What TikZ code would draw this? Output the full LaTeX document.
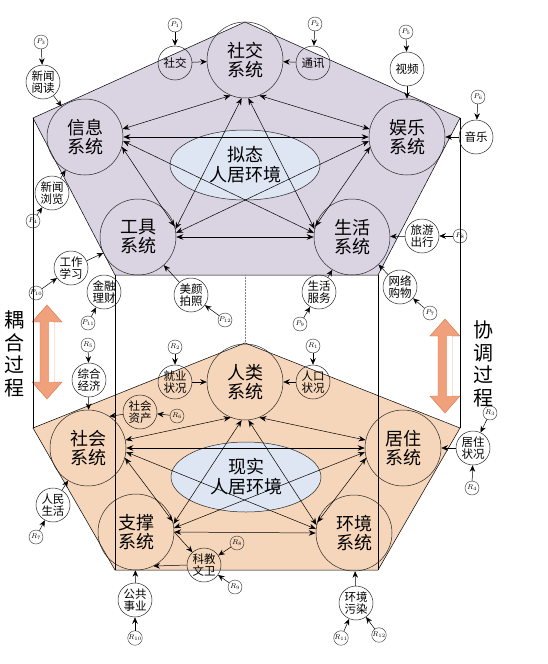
\documentclass[tikz,border=0pt]{standalone}
\usepackage{fontspec}
\setmainfont{Noto Sans CJK SC}
\usepackage{tikz}
\usetikzlibrary{arrows.meta, shapes.geometric, calc}
\definecolor{upfill}{RGB}{217,211,226}
\definecolor{lowfill}{RGB}{246,214,186}
\definecolor{envfill}{RGB}{222,230,243}
\definecolor{coupfill}{RGB}{240,160,122}
\definecolor{coupline}{RGB}{210,118,80}

% fat double-headed arrow centred on a named coordinate
\newcommand{\couplearrow}[1]{%
  \filldraw[fill=coupfill, draw=coupline, line width=0.4pt]
    ($(#1)+(0,-47)$) -- ++(15,17) -- ++(-8,0) -- ++(0,60) -- ++(8,0)
    -- ++(-15,17) -- ++(-15,-17) -- ++(8,0) -- ++(0,-60) -- ++(-8,0) -- cycle;
  \fill[white] ($(#1)+(1.5,-30)$) rectangle ($(#1)+(6.6,30)$);}

\begin{document}
\begin{tikzpicture}[
  x=1pt, y=-1pt,
  sysnode/.style={circle, draw=black!85, line width=0.5pt, minimum size=76pt,
                  inner sep=0pt, align=center, font=\fontsize{18}{19}\selectfont},
  subnode/.style={circle, draw=black!85, line width=0.5pt, minimum size=34pt,
                  inner sep=0pt, align=center, font=\fontsize{11.5}{12.5}\selectfont},
  srcnode/.style={circle, draw=black!85, line width=0.4pt, minimum size=14pt,
                  inner sep=0pt, font=\fontsize{7.5}{8}\selectfont},
  envnode/.style={ellipse, draw=black!85, fill=envfill, line width=0.5pt,
                  minimum width=150pt, minimum height=70pt, inner sep=0pt,
                  align=center, font=\fontsize{18}{20}\selectfont},
  procnode/.style={align=center, font=\fontsize{20}{22.5}\selectfont},
  linkarrow/.style={{Stealth[length=7pt, width=5.5pt]}-{Stealth[length=7pt, width=5.5pt]},
                    line width=0.5pt},
  feedarrow/.style={-{Stealth[length=6.5pt, width=5.5pt]}, line width=0.5pt},
]
\useasboundingbox (0,0) rectangle (548,664);

% =================================================================
% FRAME: two pentagons joined by vertical edges
% =================================================================
\coordinate (ua)  at (245,22);
\coordinate (ul)  at (33,118);
\coordinate (ur)  at (460,118);
\coordinate (ubl) at (115,275);
\coordinate (ubr) at (378,275);
\coordinate (ubm) at (245,275);
\coordinate (la)  at (245,343);
\coordinate (ll)  at (33,428);
\coordinate (lr)  at (460,428);
\coordinate (lbl) at (115,570);
\coordinate (lbr) at (378,570);

\filldraw[fill=upfill, line width=0.5pt] (ua) -- (ur) -- (ubr) -- (ubl) -- (ul) -- cycle;
\filldraw[fill=lowfill, line width=0.5pt] (la) -- (lr) -- (lbr) -- (lbl) -- (ll) -- cycle;

% =================================================================
% COUPLING / COORDINATION ARROWS
% =================================================================
\coordinate (ougc) at (47,352);
\coordinate (xtc) at (445,366);
\couplearrow{ougc}
\couplearrow{xtc}
\node[procnode] (ouhe) at (15,354) {耦\\合\\过\\程};
\node[procnode] (xietiao) at (483,364) {协\\调\\过\\程};

\draw[line width=0.5pt] (ul) -- (ll);
\draw[line width=0.5pt] (ur) -- (lr);
\draw[line width=0.5pt] (ubl) -- (lbl);
\draw[line width=0.5pt] (ubr) -- (lbr);
\draw[gray, densely dotted, line width=0.5pt] (ubm) -- (la);

% =================================================================
% UPPER PENTAGON: virtual living environment
% =================================================================
\node[envnode] (nitai) at (245,165) {拟态\\人居环境};
\node[sysnode] (shejiao) at (245,60) {社交\\系统};
\node[sysnode] (xinxi) at (85,137) {信息\\系统};
\node[sysnode] (yule) at (407,137) {娱乐\\系统};
\node[sysnode] (gongju) at (138,237) {工具\\系统};
\node[sysnode] (shenghuo) at (352,237) {生活\\系统};

\draw[linkarrow] (shejiao.-112) -- (xinxi.12);
\draw[linkarrow] (shejiao.-68) -- (yule.168);
\draw[linkarrow] (shejiao.-95) -- (gongju.12);
\draw[linkarrow] (shejiao.-85) -- (shenghuo.168);
\draw[linkarrow] (xinxi.east) -- (yule.west);
\draw[linkarrow] (xinxi.-15) -- (gongju.16);
\draw[linkarrow] (xinxi.-6) -- (shenghuo.174);
\draw[linkarrow] (yule.-174) -- (gongju.6);
\draw[linkarrow] (yule.-165) -- (shenghuo.164);
\draw[linkarrow] (gongju.east) -- (shenghuo.west);

\node[subnode] (sjsub) at (175,63) {社交};
\node[subnode] (txsub) at (313,63) {通讯};
\node[subnode] (xwyd) at (43,82) {新闻\\阅读};
\node[subnode] (xwll) at (52,193) {新闻\\浏览};
\node[subnode] (spsub) at (407,69) {视频};
\node[subnode] (yysub) at (476,137) {音乐};
\node[subnode] (gzxx) at (71,268) {工作\\学习};
\node[subnode] (jrlc) at (104,292) {金融\\理财};
\node[subnode] (myps) at (191,295) {美颜\\拍照};
\node[subnode] (shfw) at (319,292) {生活\\服务};
\node[subnode] (lycx) at (422,236) {旅游\\出行};
\node[subnode] (wlgw) at (400,287) {网络\\购物};

\node[srcnode] (p1) at (175,25) {$P_{1}$};
\node[srcnode] (p2) at (315,24) {$P_{2}$};
\node[srcnode] (p3) at (41,42) {$P_{3}$};
\node[srcnode] (p4) at (33,221) {$P_{4}$};
\node[srcnode] (p5) at (406,32) {$P_{5}$};
\node[srcnode] (p6) at (478,97) {$P_{6}$};
\node[srcnode] (p7) at (430,313) {$P_{7}$};
\node[srcnode] (p8) at (460,236) {$P_{8}$};
\node[srcnode] (p9) at (300,324) {$P_{9}$};
\node[srcnode] (p10) at (36,293) {$P_{10}$};
\node[srcnode] (p11) at (88,323) {$P_{11}$};
\node[srcnode] (p12) at (225,320) {$P_{12}$};

\draw[feedarrow] (p1) -- (sjsub);
\draw[feedarrow] (sjsub) -- (shejiao);
\draw[feedarrow] (p2) -- (txsub);
\draw[feedarrow] (txsub) -- (shejiao);
\draw[feedarrow] (p3) -- (xwyd);
\draw[feedarrow] (xwyd) -- (xinxi);
\draw[feedarrow] (p4) -- (xwll);
\draw[feedarrow] (xwll) -- (xinxi);
\draw[feedarrow] (p5) -- (spsub);
\draw[feedarrow] (spsub) -- (yule);
\draw[feedarrow] (p6) -- (yysub);
\draw[feedarrow] (yysub) -- (yule);
\draw[feedarrow] (p10) -- (gzxx);
\draw[feedarrow] (gzxx) -- (gongju);
\draw[feedarrow] (p11) -- (jrlc);
\draw[feedarrow] (p12) -- (myps);
\draw[feedarrow] (myps) -- (gongju);
\draw[feedarrow] (p9) -- (shfw);
\draw[feedarrow] (shfw) -- (shenghuo);
\draw[feedarrow] (p7) -- (wlgw);
\draw[feedarrow] (wlgw) -- (shenghuo);
\draw[feedarrow] (p8) -- (lycx);
\draw[feedarrow] (lycx) -- (shenghuo);

% =================================================================
% LOWER PENTAGON: real living environment
% =================================================================
\node[envnode] (xianshi) at (246,477) {现实\\人居环境};
\node[sysnode] (renlei) at (245,382) {人类\\系统};
\node[sysnode] (shehui) at (88,448) {社会\\系统};
\node[sysnode] (juzhu) at (403,448) {居住\\系统};
\node[sysnode] (zhicheng) at (136,532) {支撑\\系统};
\node[sysnode] (huanjing) at (354,533) {环境\\系统};

\draw[linkarrow] (renlei.-112) -- (shehui.12);
\draw[linkarrow] (renlei.-68) -- (juzhu.168);
\draw[linkarrow] (renlei.-95) -- (zhicheng.12);
\draw[linkarrow] (renlei.-85) -- (huanjing.168);
\draw[linkarrow] (shehui.east) -- (juzhu.west);
\draw[linkarrow] (shehui.-15) -- (zhicheng.16);
\draw[linkarrow] (shehui.-6) -- (huanjing.174);
\draw[linkarrow] (juzhu.-174) -- (zhicheng.6);
\draw[linkarrow] (juzhu.-165) -- (huanjing.164);
\draw[linkarrow] (zhicheng.east) -- (huanjing.west);

\node[subnode] (jyzk) at (175,382) {就业\\状况};
\node[subnode] (rkzk) at (313,382) {人口\\状况};
\node[subnode] (shzc) at (140,412) {社会\\资产};
\node[subnode] (zhjj) at (89,380) {综合\\经济};
\node[subnode] (rmsh) at (53,505) {人民\\生活};
\node[subnode] (jzzk) at (473,448) {居住\\状况};
\node[subnode] (kjww) at (204,565) {科教\\文卫};
\node[subnode] (ggsy) at (135,600) {公共\\事业};
\node[subnode] (hjwr) at (356,603) {环境\\污染};

\node[srcnode] (r1) at (313,346) {$R_{1}$};
\node[srcnode] (r2) at (175,347) {$R_{2}$};
\node[srcnode] (r3) at (490,413) {$R_{3}$};
\node[srcnode] (r4) at (472,488) {$R_{4}$};
\node[srcnode] (r5) at (88,345) {$R_{5}$};
\node[srcnode] (r6) at (177,416) {$R_{6}$};
\node[srcnode] (r7) at (36,537) {$R_{7}$};
\node[srcnode] (r8) at (237,543) {$R_{8}$};
\node[srcnode] (r9) at (235,587) {$R_{9}$};
\node[srcnode] (r10) at (135,638) {$R_{10}$};
\node[srcnode] (r11) at (341,638) {$R_{11}$};
\node[srcnode] (r12) at (379,635) {$R_{12}$};

\draw[feedarrow] (r2) -- (jyzk);
\draw[feedarrow] (jyzk) -- (renlei);
\draw[feedarrow] (r1) -- (rkzk);
\draw[feedarrow] (rkzk) -- (renlei);
\draw[feedarrow] (r6) -- (shzc);
\draw[feedarrow] (shzc) -- (shehui.56);
\draw[feedarrow] (r5) -- (zhjj);
\draw[feedarrow] (zhjj) -- (shehui);
\draw[feedarrow] (r7) -- (rmsh);
\draw[feedarrow] (rmsh) -- (shehui);
\draw[feedarrow] (r3) -- (jzzk);
\draw[feedarrow] (r4) -- (jzzk);
\draw[feedarrow] (jzzk) -- (juzhu);
\draw[feedarrow] (zhicheng.east) -- (kjww);
\draw[feedarrow] (kjww.west) -- (zhicheng.-63);
\draw[feedarrow] (r8) -- (kjww);
\draw[feedarrow] (r9) -- (kjww);
\draw[feedarrow] (r10) -- (ggsy);
\draw[feedarrow] (ggsy) -- (zhicheng);
\draw[feedarrow] (r11) -- (hjwr);
\draw[feedarrow] (r12) -- (hjwr);
\draw[feedarrow] (hjwr) -- (huanjing);

\end{tikzpicture}
\end{document}
